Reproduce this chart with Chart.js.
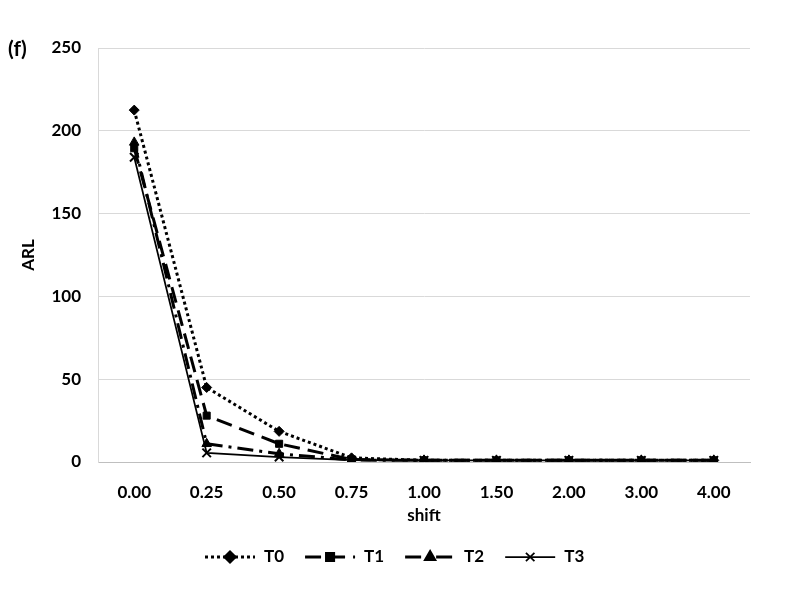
<!DOCTYPE html>
<html>
<head>
<meta charset="utf-8">
<script src="https://cdn.jsdelivr.net/npm/chart.js@4"></script>
<style>
  body { margin: 0; background: #fff; }
  #wrap { position: relative; width: 785px; height: 589px; }
  #tag { position: absolute; left: 8px; top: 35px; font: bold 21px Lato, sans-serif; color: #000; }
</style>
</head>
<body>
<div id="wrap">
  <canvas id="arlChart" width="785" height="589"></canvas>
  <div id="tag">(f)</div>
</div>
<script>
// shift categories and ARL values
var shifts = ['0.00', '0.25', '0.50', '0.75', '1.00', '1.50', '2.00', '3.00', '4.00'];
var t0 = [212.5, 45, 18.5, 2.5, 1, 1, 1, 1, 1];
var t1 = [189.5, 28, 11, 1.5, 1, 1, 1, 1, 1];
var t2 = [193, 11, 5, 1.2, 1, 1, 1, 1, 1];
var t3 = [184, 5.5, 3, 1.1, 1, 1, 1, 1, 1];
var yTicks = [0, 50, 100, 150, 200, 250];

var fontFam = 'Lato, sans-serif';

function series(label, data, style, dash, width, radius) {
    return {
        label: label,
        data: data,
        borderColor: '#000',
        backgroundColor: '#000',
        borderWidth: width,
        borderDash: dash,
        pointStyle: style,
        pointRadius: radius,
        pointBorderWidth: style === 'crossRot' ? 2 : 1,
        tension: 0,
        fill: false
    };
}

// legend drawn on the canvas: line sample with marker, then label
var lineLegend = {
    id: 'lineLegend',
    afterDraw: function(chart) {
        var ctx = chart.ctx;
        var y = 557;
        var x = 205;
        ctx.save();
        ctx.font = 'bold 17px ' + fontFam;
        ctx.textBaseline = 'middle';
        chart.data.datasets.forEach(function(ds, i) {
            ctx.strokeStyle = '#000';
            ctx.lineWidth = ds.borderWidth;
            ctx.setLineDash(ds.borderDash);
            ctx.beginPath();
            ctx.moveTo(x, y);
            ctx.lineTo(x + 50, y);
            ctx.stroke();
            ctx.setLineDash([]);
            Chart.helpers.drawPoint(ctx, {
                pointStyle: ds.pointStyle,
                radius: ds.pointStyle === 'triangle' ? 5 : ds.pointRadius,
                borderWidth: ds.pointBorderWidth
            }, x + 25, y);
            ctx.fillStyle = '#000';
            ctx.fillText(ds.label, x + 59, y);
            x += 59 + ctx.measureText(ds.label).width + 21;
        });
        ctx.restore();
    }
};

new Chart(document.getElementById('arlChart'), {
    type: 'line',
    data: {
        labels: shifts,
        datasets: [
            series('T0', t0, 'rectRot', [3, 3], 3, 5),
            series('T1', t1, 'rect', [16, 8], 3, 5),
            series('T2', t2, 'triangle', [16, 6, 3, 6], 3, 5.5),
            series('T3', t3, 'crossRot', [], 1.75, 6)
        ]
    },
    options: {
        responsive: false,
        animation: false,
        layout: { padding: { left: 0, right: 35, top: 48, bottom: 0 } },
        plugins: {
            legend: { display: false },
            tooltip: { enabled: false }
        },
        scales: {
            x: {
                offset: true,
                grid: { display: false, drawTicks: false },
                border: { color: '#bfbfbf', width: 1 },
                ticks: { color: '#000', padding: 20, font: { family: fontFam, size: 17, weight: 'bold' } },
                title: {
                    display: true, text: 'shift', color: '#000',
                    font: { family: fontFam, size: 17, weight: 'bold' },
                    padding: { top: 0, bottom: 63 }
                },
                afterFit: function(scale) { scale.height = 127; }
            },
            y: {
                min: 0,
                max: 250,
                afterBuildTicks: function(scale) {
                    scale.ticks = yTicks.map(function(v) { return { value: v }; });
                },
                grid: { color: '#d9d9d9', drawTicks: false },
                border: { color: '#d9d9d9', width: 1 },
                ticks: { color: '#000', padding: 17, font: { family: fontFam, size: 17, weight: 'bold' } },
                title: {
                    display: true, text: 'ARL', color: '#000',
                    font: { family: fontFam, size: 17, weight: 'bold' },
                    padding: { top: 18, bottom: 0 }
                },
                afterFit: function(scale) { scale.width = 98; }
            }
        }
    },
    plugins: [lineLegend]
});
</script>
</body>
</html>
